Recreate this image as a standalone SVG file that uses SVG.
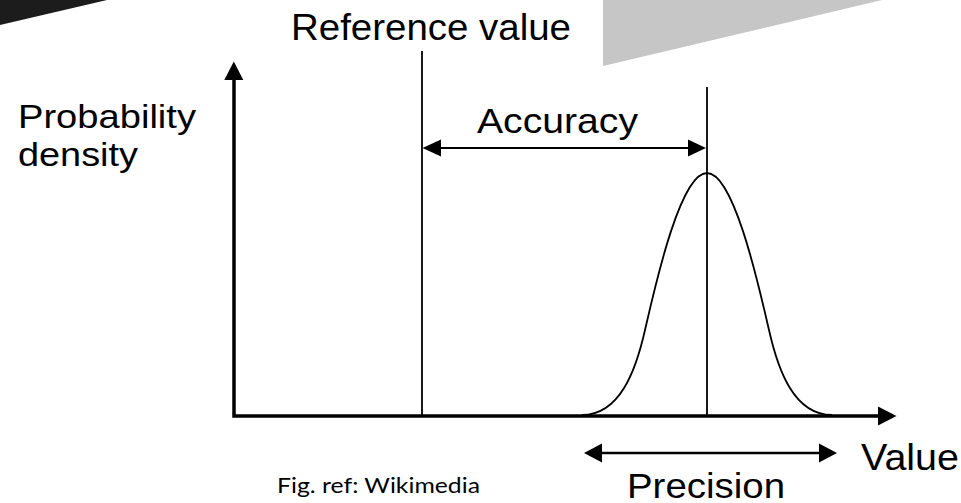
<svg xmlns="http://www.w3.org/2000/svg" width="961" height="503" viewBox="0 0 961 503">
  <style>
    .lbl { font-family: "Liberation Sans", Arial, sans-serif; fill: #000; }
    .cap { font-family: Lato, "Open Sans", "Liberation Sans", sans-serif; fill: #000; }
    .thin { stroke: #000; stroke-width: 1.8; fill: none; }
    .head { fill: #000; stroke: none; }
  </style>
  <rect width="961" height="503" fill="#ffffff"/>
  <g id="decor">
    <polygon points="0,0 107,0 0,25" fill="#1c1c1c"/>
    <polygon points="603,0 882,0 603,66" fill="#c6c6c6"/>
  </g>
  <g id="axes">
    <path d="M234,78 L234,416 L880,416" stroke="#000" stroke-width="3.5" fill="none" stroke-linejoin="miter"/>
    <polygon class="head" points="233.8,61.5 224.3,80 243.3,80"/>
    <polygon class="head" points="896.5,416 878,406.5 878,425.5"/>
  </g>
  <g id="reference-line">
    <line class="thin" x1="422" y1="51" x2="422" y2="416"/>
  </g>
  <g id="mean-line">
    <line class="thin" x1="707" y1="87" x2="707" y2="416"/>
  </g>
  <g id="distribution">
    <path class="thin" d="M582,415 C620,415 636,370 645,330 C655,287 680,173 707,173 C734,173 759,287 769,330 C778,370 794,415 832,415"/>
  </g>
  <g id="connectors">
    <g id="accuracy-arrow">
      <line class="thin" x1="438" y1="148" x2="692" y2="148"/>
      <polygon class="head" points="422.5,148 441,139.5 441,156.5"/>
      <polygon class="head" points="706,148 688,139.5 688,156.5"/>
    </g>
    <g id="precision-arrow">
      <line x1="598" y1="453" x2="824" y2="453" stroke="#000" stroke-width="2.5"/>
      <polygon class="head" points="584,453 602,443.5 602,462.5"/>
      <polygon class="head" points="837,453 819,443.5 819,462.5"/>
    </g>
  </g>
  <g id="labels">
    <text class="lbl" x="291" y="39.5" font-size="36" textLength="280" lengthAdjust="spacingAndGlyphs">Reference value</text>
    <text class="lbl" x="18" y="127.5" font-size="34" textLength="178" lengthAdjust="spacingAndGlyphs">Probability</text>
    <text class="lbl" x="18" y="166" font-size="34" textLength="120" lengthAdjust="spacingAndGlyphs">density</text>
    <text class="lbl" x="477" y="132.5" font-size="35" textLength="161" lengthAdjust="spacingAndGlyphs">Accuracy</text>
    <text class="lbl" x="861" y="470" font-size="36" textLength="98" lengthAdjust="spacingAndGlyphs">Value</text>
    <text class="lbl" x="627" y="497.5" font-size="35" textLength="158" lengthAdjust="spacingAndGlyphs">Precision</text>
    <text class="cap" x="277" y="493" font-size="22" textLength="203" lengthAdjust="spacingAndGlyphs">Fig. ref: Wikimedia</text>
  </g>
</svg>
